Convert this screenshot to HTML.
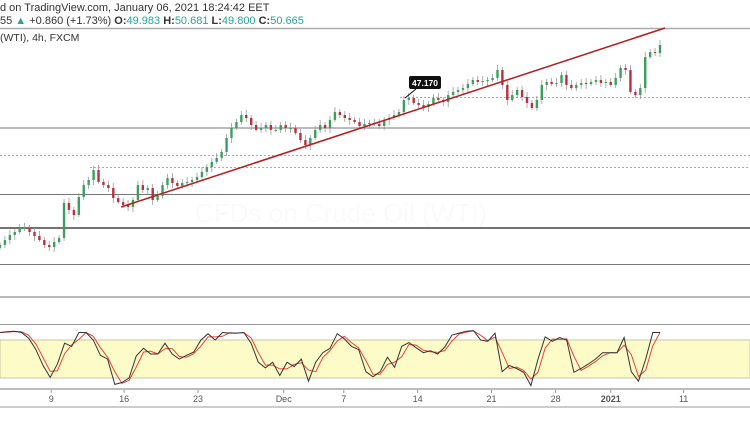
<!DOCTYPE html>
<html><head><meta charset="utf-8"><style>
html,body{margin:0;padding:0;background:#fff;width:750px;height:430px;overflow:hidden;font-family:"Liberation Sans",sans-serif}
svg{display:block}
</style></head><body>
<svg id="chart" width="750" height="430" xmlns="http://www.w3.org/2000/svg">
<text x="0" y="11" font-size="11" fill="#333">d on TradingView.com, January 06, 2021 18:24:42 EET</text>
<text x="0" y="24" font-size="11" fill="#333">55 <tspan fill="#26a69a">▲ </tspan>+0.860 (+1.73%) <tspan font-weight="bold">O:</tspan><tspan fill="#26a69a">49.983 </tspan><tspan font-weight="bold">H:</tspan><tspan fill="#26a69a">50.681 </tspan><tspan font-weight="bold">L:</tspan><tspan fill="#26a69a">49.800 </tspan><tspan font-weight="bold">C:</tspan><tspan fill="#26a69a">50.665</tspan></text>
<line x1="0" y1="28.5" x2="750" y2="28.5" stroke="#aaa" stroke-width="1.5"/>
<text x="0" y="41" font-size="10.5" fill="#333">(WTI), 4h, FXCM</text>
<text x="195" y="222" font-size="26" fill="#000" fill-opacity="0.018">CFDs on Crude Oil (WTI)</text>
<line x1="0" y1="128" x2="750" y2="128" stroke="#bbb" stroke-width="2"/>
<line x1="0" y1="155.5" x2="750" y2="155.5" stroke="#aaa" stroke-width="1" stroke-dasharray="2,2"/>
<line x1="90" y1="167.5" x2="750" y2="167.5" stroke="#aaa" stroke-width="1" stroke-dasharray="2,2"/>
<line x1="400" y1="97.5" x2="750" y2="97.5" stroke="#aaa" stroke-width="1" stroke-dasharray="2,2"/>
<line x1="0" y1="194.5" x2="750" y2="194.5" stroke="#777" stroke-width="1"/>
<line x1="0" y1="228" x2="750" y2="228" stroke="#444" stroke-width="1.5"/>
<line x1="0" y1="264.5" x2="750" y2="264.5" stroke="#777" stroke-width="1"/>
<line x1="0" y1="297" x2="750" y2="297" stroke="#bbb" stroke-width="2"/>
<g id="candles"></g>
<g id="trend"></g>
<line x1="405" y1="98" x2="416" y2="89" stroke="#111" stroke-width="1"/>
<rect x="409" y="76" width="32" height="13" rx="2" fill="#111"/>
<text x="425" y="86" font-size="8.5" font-weight="bold" fill="#fff" text-anchor="middle">47.170</text>
<line x1="0" y1="324.5" x2="750" y2="324.5" stroke="#999" stroke-width="1"/>
<rect x="0" y="340" width="750" height="38" fill="#fdfbc8" stroke="#bdbd98" stroke-width="0.8"/>
<g id="stoch"></g>
<line x1="0" y1="389" x2="750" y2="389" stroke="#bbb" stroke-width="2"/>
<g id="xaxis"></g>
<line x1="0" y1="407" x2="750" y2="407" stroke="#bbb" stroke-width="1.5"/>
</svg>
<script>
const closes=[37.24,37.57,37.91,38.11,38.38,38.38,38.11,37.84,37.57,37.24,37.10,37.44,37.71,40.06,39.59,39.25,40.46,41.26,41.60,42.27,41.47,41.26,41.06,40.39,40.12,39.92,39.79,40.26,41.26,40.93,41.06,40.26,40.53,41.26,41.73,41.40,41.20,41.40,41.47,41.60,41.80,42.14,42.47,42.81,43.08,43.48,44.42,45.09,45.49,45.96,45.76,45.29,44.96,45.09,45.29,44.96,44.96,45.29,45.09,45.09,44.75,44.28,43.95,44.42,44.96,45.29,45.09,45.63,46.16,45.96,45.76,45.63,45.49,45.22,45.36,45.43,45.36,45.22,45.63,45.76,45.96,46.16,46.97,47.10,46.77,46.63,46.50,46.70,47.10,46.97,46.83,47.30,47.51,47.64,47.77,48.04,48.31,48.18,48.24,48.31,48.45,48.98,47.98,46.97,47.30,47.64,47.17,46.77,46.43,46.97,47.98,48.18,48.04,48.11,48.65,47.98,47.77,47.98,48.11,48.04,48.18,48.31,48.11,48.18,47.98,48.45,49.12,48.98,47.51,47.30,47.77,49.85,50.19,50.12,50.66];
const stochK=[92,93,94,92,83,65,40,21,42,75,70,92,92,80,56,50,10,13,20,55,67,58,58,75,58,50,56,61,80,90,80,92,91,91,92,75,45,36,45,24,45,38,50,15,45,60,67,90,82,70,65,30,22,30,53,37,70,76,68,60,63,58,69,88,91,94,95,80,78,91,30,40,35,29,8,50,85,78,84,80,29,35,42,50,60,60,60,84,30,15,50,92,92];
const trendPrices=[39.79,51.80];
const trendIdx=[24.6,135];
const tickLabels=["9","16","23","Dec","7","14","21","28","2021","11"];
const tickIdx=[10.4,25.2,40.2,57.6,69.8,84.8,99.8,112.8,124,138.8];
const NS="http://www.w3.org/2000/svg";
const step=660/(closes.length-1);
const xOf=i=>i*step;
const yOf=p=>97-(p-47.17)*14.9;
const yS=v=>390.7-v*0.633;
const cg=document.getElementById('candles');
for(let i=0;i<closes.length;i++){
  const o=i>0?closes[i-1]:closes[i]-0.2, c=closes[i];
  const up=c>=o, x=xOf(i);
  const col=up?'#3d9f5f':'#b8313c';
  const top=Math.min(yOf(o),yOf(c)), bot=Math.max(yOf(o),yOf(c));
  const w=document.createElementNS(NS,'line');
  
  
  w.setAttribute('x1',x);w.setAttribute('x2',x);
  w.setAttribute('y1',top-3-(i%3));w.setAttribute('y2',bot+2+(i%4));
  w.setAttribute('stroke','#999');w.setAttribute('stroke-width','0.8');
  cg.appendChild(w);
  const r=document.createElementNS(NS,'rect');
  
  
  r.setAttribute('x',x-1.2);r.setAttribute('width',2.4);
  r.setAttribute('y',top);r.setAttribute('height',Math.max(1,bot-top));
  r.setAttribute('fill',col);
  cg.appendChild(r);
}
const tl=document.createElementNS(NS,'line');


tl.setAttribute('x1',xOf(trendIdx[0]));tl.setAttribute('y1',yOf(trendPrices[0]));
tl.setAttribute('x2',xOf(trendIdx[1]));tl.setAttribute('y2',yOf(trendPrices[1]));
tl.setAttribute('stroke','#b22222');tl.setAttribute('stroke-width','1.6');
document.getElementById('trend').appendChild(tl);
const sStep=660/(stochK.length-1);
const stochD=stochK.map((v,i)=>{const a=stochK.slice(Math.max(0,i-1),i+1);return a.reduce((s,x)=>s+x,0)/a.length;});
function path(arr,color,name,shift){
  const p=document.createElementNS(NS,'path');
  
  
  p.setAttribute('d',arr.map((v,i)=>(i?'L':'M')+(i*sStep).toFixed(1)+','+yS(v).toFixed(1)).join(''));
  p.setAttribute('fill','none');p.setAttribute('stroke',color);p.setAttribute('stroke-width','1');
  document.getElementById('stoch').appendChild(p);
}
path(stochD,'#e8433a','stoch-d-line');
path(stochK,'#333','stoch-k-line');
const xa=document.getElementById('xaxis');
tickLabels.forEach((t,i)=>{
  const e=document.createElementNS(NS,'text');
  
  
  e.setAttribute('x',xOf(tickIdx[i]));e.setAttribute('y',402);
  e.setAttribute('font-size','9');e.setAttribute('fill','#555');
  e.setAttribute('text-anchor','middle');
  if(t==='2021')e.setAttribute('font-weight','bold');
  e.textContent=t;xa.appendChild(e);
  const k=document.createElementNS(NS,'line');
  
  
  k.setAttribute('x1',xOf(tickIdx[i]));k.setAttribute('x2',xOf(tickIdx[i]));
  k.setAttribute('y1',390);k.setAttribute('y2',393);k.setAttribute('stroke','#999');
  xa.appendChild(k);
});
</script>
</body></html>
